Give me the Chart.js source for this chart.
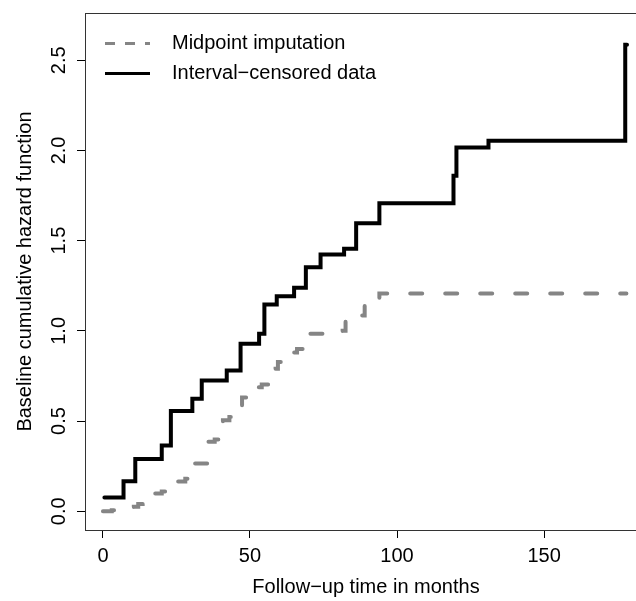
<!DOCTYPE html>
<html><head><meta charset="utf-8">
<script src="https://cdn.jsdelivr.net/npm/chart.js@4/dist/chart.umd.min.js"></script>
<style>html,body{margin:0;padding:0;background:#fff;overflow:hidden;width:636px;height:601px}canvas{display:block}</style>
</head><body>
<canvas id="c" width="647" height="601"></canvas>
<script>
// Interval-censored estimate (step function: value holds from each time onward)
const icTimes  = [0.5, 7.0, 11.0, 20.0, 23.1, 30.4, 33.6, 42.1, 46.8, 53.1, 54.9, 59.1, 65.0, 69.0, 74.0, 82.0, 86.1, 94.0, 119.2, 120.2, 131.1, 177.6, 178.2];
const icHazard = [0.076, 0.166, 0.290, 0.364, 0.555, 0.624, 0.725, 0.780, 0.928, 0.984, 1.146, 1.192, 1.239, 1.353, 1.423, 1.455, 1.596, 1.707, 1.860, 2.017, 2.054, 2.586, 2.586];
// Midpoint imputation estimate
const midTimes  = [0, 3, 5, 10.5, 12, 13.5, 17, 20, 24.5, 28, 31, 35.7, 38, 40.8, 43, 45.5, 47.3, 51.5, 54, 58.7, 59.5, 64.7, 66, 68, 70, 76, 81.5, 82.5, 88, 89, 94, 178];
const midHazard = [0, 0.005, 0.010, 0.025, 0.040, 0.057, 0.098, 0.110, 0.165, 0.180, 0.265, 0.385, 0.397, 0.504, 0.522, 0.587, 0.631, 0.688, 0.703, 0.790, 0.827, 0.880, 0.900, 0.920, 0.984, 0.990, 1.000, 1.057, 1.085, 1.153, 1.207, 1.207];

const xTicks = [0, 50, 100, 150];
const yTicks = [0, 0.5, 1.0, 1.5, 2.0, 2.5];
const yTickLabels = ['0.0', '0.5', '1.0', '1.5', '2.0', '2.5'];
const seriesNames = ['Midpoint imputation', 'Interval\u2212censored data'];
const xTitle = 'Follow\u2212up time in months';
const yTitle = 'Baseline cumulative hazard function';

const FONT = "'Liberation Sans', Arial, Helvetica, sans-serif";
const GRAY = '#858585';

const toPts = (xs, ys) => xs.map((x, i) => ({x: x, y: ys[i]}));

const rPlot = {
  id: 'rPlot',
  afterDraw(chart) {
    const ctx = chart.ctx, a = chart.chartArea, ys = chart.scales.y;
    ctx.save();
    // box
    ctx.strokeStyle = '#333';
    ctx.lineWidth = 1;
    ctx.strokeRect(Math.round(a.left) + 0.5, Math.round(a.top) + 0.5, a.right - a.left, Math.round(a.bottom) - Math.round(a.top));
    // rotated y tick labels
    ctx.fillStyle = '#000';
    ctx.font = '20px ' + FONT;
    ctx.textAlign = 'center';
    ctx.textBaseline = 'alphabetic';
    yTicks.forEach((v, i) => {
      const py = ys.getPixelForValue(v);
      ctx.save();
      ctx.translate(65, py);
      ctx.rotate(-Math.PI / 2);
      ctx.fillText(yTickLabels[i], 0, 0);
      ctx.restore();
    });
    // legend
    const ds = chart.data.datasets;
    const rows = [43.5, 73.5];
    ds.forEach((d, i) => {
      const y = rows[i];
      ctx.beginPath();
      ctx.strokeStyle = d.borderColor;
      ctx.lineWidth = 3;
      ctx.lineCap = 'butt';
      ctx.setLineDash(d.borderDash && d.borderDash.length ? [10, 10] : []);
      ctx.moveTo(105, y);
      ctx.lineTo(150, y);
      ctx.stroke();
      ctx.setLineDash([]);
      ctx.fillStyle = '#000';
      ctx.textAlign = 'left';
      ctx.textBaseline = 'middle';
      ctx.fillText(d.label, 172, y);
    });
    ctx.restore();
  }
};

new Chart(document.getElementById('c'), {
  type: 'line',
  data: {
    datasets: [
      {
        label: seriesNames[0],
        data: toPts(midTimes, midHazard),
        borderColor: GRAY,
        borderWidth: 4,
        borderDash: [12, 23],
        borderCapStyle: 'round',
        borderJoinStyle: 'miter',
        stepped: 'before',
        pointRadius: 0,
        fill: false
      },
      {
        label: seriesNames[1],
        data: toPts(icTimes, icHazard),
        borderColor: '#000',
        borderWidth: 4,
        borderCapStyle: 'round',
        borderJoinStyle: 'miter',
        stepped: 'before',
        pointRadius: 0,
        fill: false
      }
    ]
  },
  options: {
    responsive: false,
    animation: false,
    devicePixelRatio: 1,
    layout: {padding: {top: 13, right: 0, left: 0, bottom: 0}},
    plugins: {legend: {display: false}, tooltip: {enabled: false}},
    scales: {
      x: {
        type: 'linear',
        min: -6.1,
        max: 185.0,
        afterBuildTicks: s => { s.ticks = xTicks.map(v => ({value: v})); },
        afterFit: s => { s.height = 71; },
        grid: {drawOnChartArea: false, drawTicks: true, tickLength: 8, color: '#000', lineWidth: 1},
        border: {display: false},
        ticks: {color: '#000', font: {family: FONT, size: 20}, padding: 6, maxRotation: 0, autoSkip: false,
                callback: v => String(v)},
        title: {display: true, text: xTitle, color: '#000', font: {family: FONT, size: 20}, padding: {top: 0, bottom: 2}}
      },
      y: {
        type: 'linear',
        min: -0.104,
        max: 2.762,
        afterBuildTicks: s => { s.ticks = yTicks.map(v => ({value: v})); },
        afterFit: s => { s.width = 85; },
        grid: {drawOnChartArea: false, drawTicks: true, tickLength: 8, color: '#000', lineWidth: 1},
        border: {display: false},
        ticks: {display: false},
        title: {display: true, text: yTitle, color: '#000', font: {family: FONT, size: 20}, padding: {top: 13, bottom: 0}}
      }
    }
  },
  plugins: [rPlot]
});
</script>
</body></html>
